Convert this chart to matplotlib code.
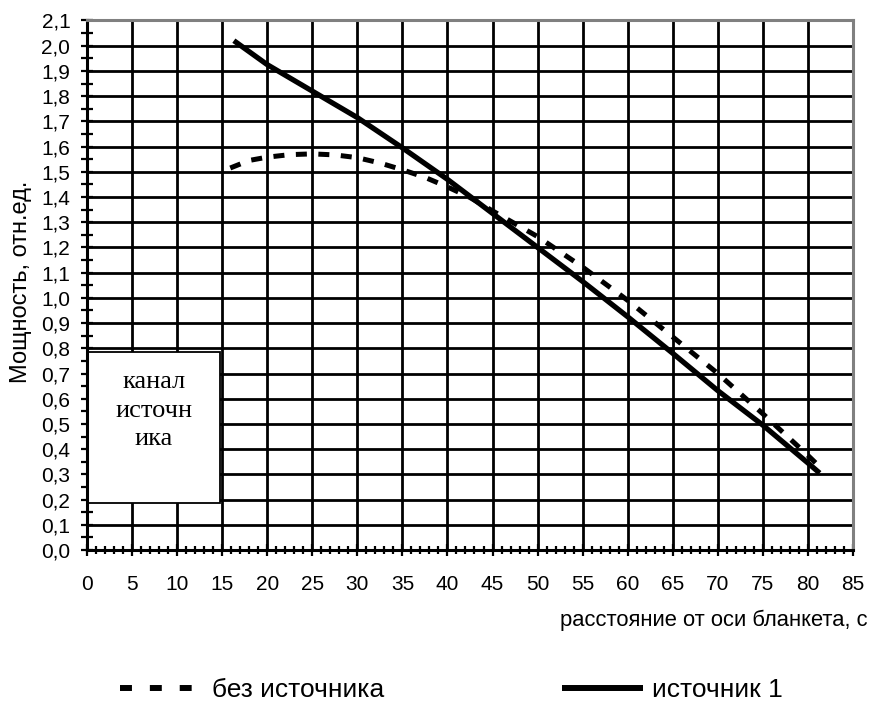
import matplotlib
matplotlib.use('Agg')
import matplotlib.pyplot as plt
from matplotlib.lines import Line2D
from matplotlib.patches import Rectangle
from matplotlib.ticker import MultipleLocator, FuncFormatter

plt.rcParams['font.family'] = ['Liberation Sans', 'DejaVu Sans']

# no source
dashed_x = [15.9, 18, 20, 22.5, 25, 27.5, 30, 32.5, 35, 37.5, 40, 42.5, 45,
            50, 55, 60, 65, 70, 75, 80, 81.3]
dashed_y = [1.515, 1.545, 1.558, 1.568, 1.571, 1.567, 1.556, 1.535, 1.508,
            1.478, 1.44, 1.398, 1.345, 1.243, 1.122, 0.99, 0.845, 0.70,
            0.54, 0.375, 0.33]
# source 1
solid_x = [16.3, 20, 25, 30, 35, 40, 45, 50, 55, 60, 65, 70, 75, 80, 81.3]
solid_y = [2.02, 1.925, 1.82, 1.715, 1.595, 1.47, 1.335, 1.2, 1.065, 0.925,
           0.78, 0.632, 0.495, 0.345, 0.305]

labels = ['без источника', 'источник 1']

fig = plt.figure(figsize=(8.74, 7.02), dpi=100)
ax = fig.add_axes([0.0995, 0.2165, 0.8765, 0.7543])

ax.plot(dashed_x, dashed_y, color='black', lw=3.6, linestyle=(0, (2.2, 2.3)),
        dash_capstyle='butt', zorder=3)
ax.plot(solid_x, solid_y, color='black', lw=3.8, solid_capstyle='butt', zorder=4)

ax.set_xlim(0, 85)
ax.set_ylim(0, 2.1)
ax.xaxis.set_major_locator(MultipleLocator(5))
ax.xaxis.set_minor_locator(MultipleLocator(1))
ax.yaxis.set_major_locator(MultipleLocator(0.1))
ax.yaxis.set_minor_locator(MultipleLocator(0.05))
ax.yaxis.set_major_formatter(FuncFormatter(lambda v, p: f'{v:.1f}'.replace('.', ',')))

ax.grid(True, which='major', color='black', lw=2.0, zorder=1)
ax.set_axisbelow(True)

ax.tick_params(which='both', direction='inout', length=8, width=1.6,
               color='black', labelsize=15)
ax.tick_params(axis='x', which='minor', length=6)
ax.tick_params(axis='x', pad=14)
ax.tick_params(axis='y', pad=8)

for s in ['left', 'bottom']:
    ax.spines[s].set_color('black')
    ax.spines[s].set_linewidth(2.2)
for s in ['top', 'right']:
    ax.spines[s].set_color('#808080')
    ax.spines[s].set_linewidth(2.2)

# box "канал источника"
box = Rectangle((0.1, 0.188), 14.7, 0.598, facecolor='white', edgecolor='black',
                lw=1.3, zorder=2.5)
ax.add_patch(box)
ax.text(7.45, 0.552, 'канал\nисточн\nика', ha='center', va='center',
        fontsize=19, family=['Liberation Serif', 'DejaVu Serif'],
        linespacing=1.38, zorder=3)

fig.text(21 / 874, 1 - 282 / 702, 'Мощность, отн.ед.', rotation=90,
         ha='center', va='center', fontsize=17)
fig.text(868 / 874, 1 - 620 / 702, 'расстояние от оси бланкета, с',
         ha='right', va='center', fontsize=15.8)

h1 = Line2D([], [], color='black', lw=4.3, linestyle=(0, (2, 3)),
            dash_capstyle='butt')
h2 = Line2D([], [], color='black', lw=4.3, solid_capstyle='butt')
leg1 = fig.legend([h1], labels[:1], loc='center left',
                  bbox_to_anchor=(120 / 874, 1 - 690 / 702), frameon=False,
                  fontsize=19, handlelength=2.73, handletextpad=0.76,
                  borderaxespad=0, borderpad=0)
fig.legend([h2], labels[1:], loc='center left',
           bbox_to_anchor=(562 / 874, 1 - 690 / 702), frameon=False,
           fontsize=19, handlelength=3.07, handletextpad=0.34,
           borderaxespad=0, borderpad=0)

fig.savefig('out.png', dpi=100)
